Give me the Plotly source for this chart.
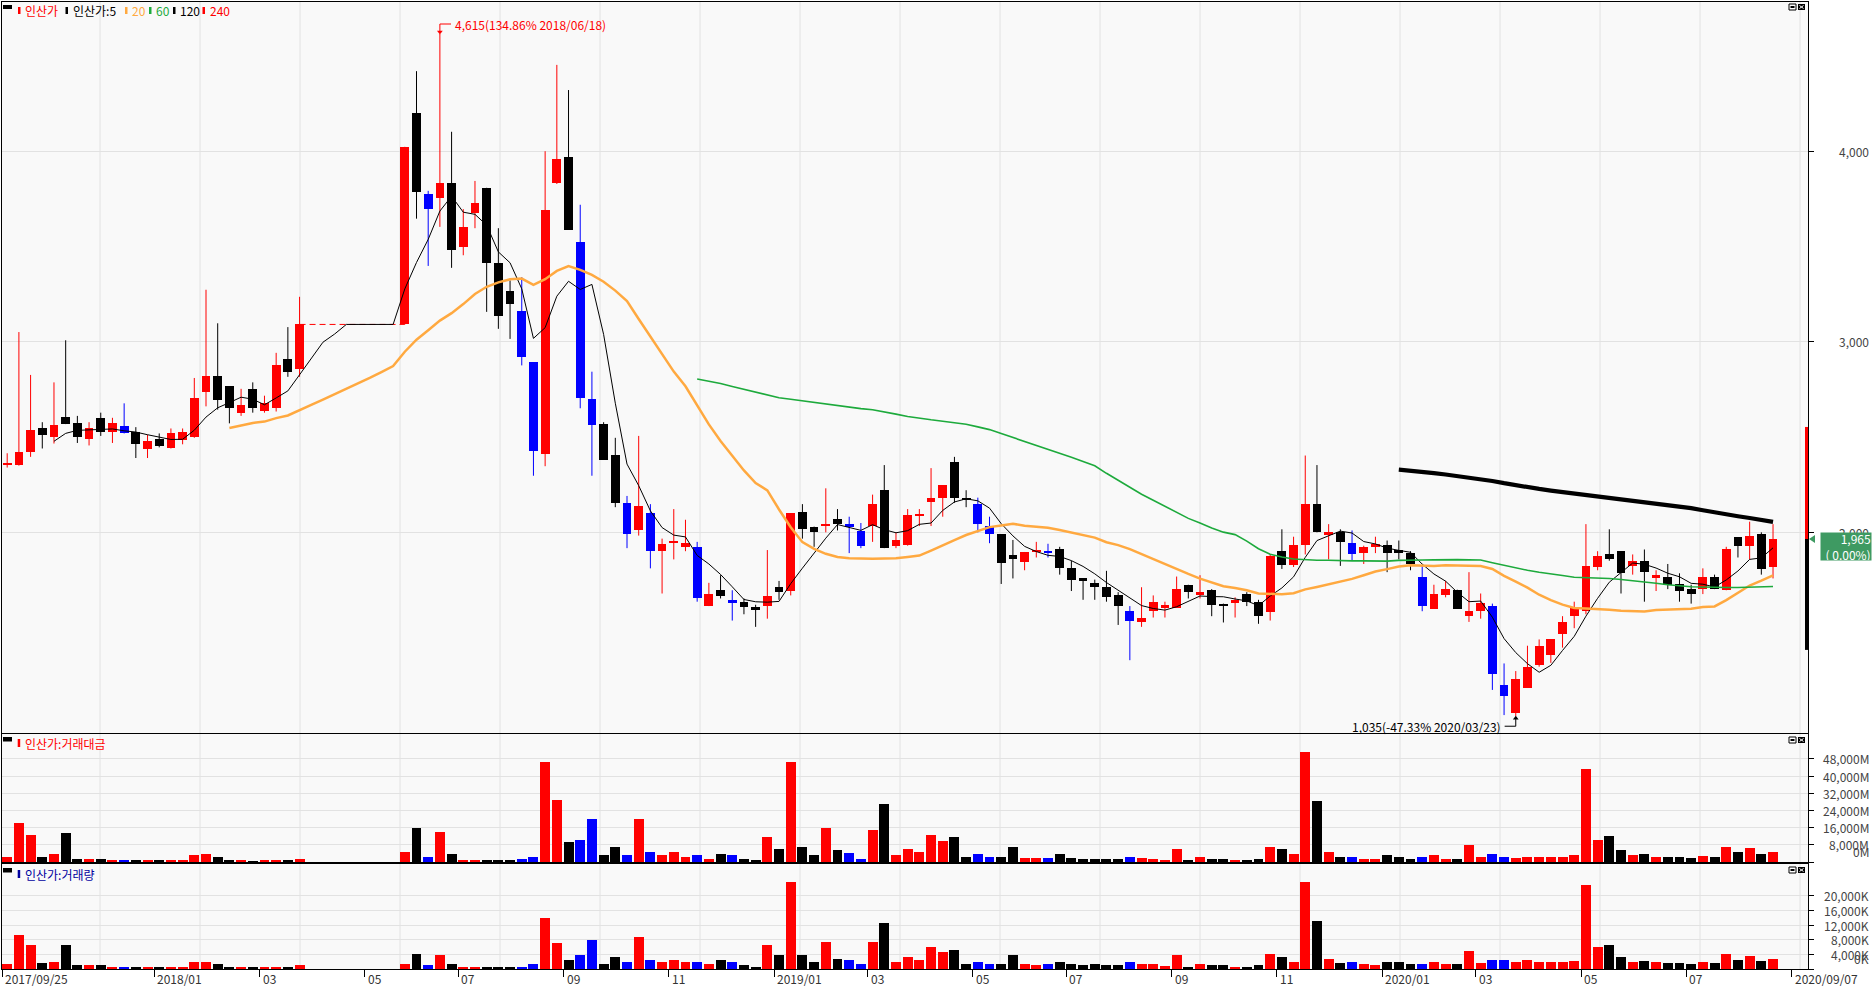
import plotly.graph_objects as go
import numpy as np

# ---------------- data (weekly candles, 2017/09/25 .. 2020/09/07) ----------------
# None = trading halt week (no candle)
H8 = [None] * 8
open_ = [2355, 2353, 2420, 2545, 2502, 2605, 2572, 2492, 2601, 2525, 2558, 2525, 2436, 2492, 2443, 2486,
         2502, 2734, 2823, 2767, 2628, 2753, 2638, 2651, 2909, 2859] + H8 + \
        [3091, 4198, 3778, 3752, 3835, 3497, 3676, 3808, 3411, 3266, 3163, 2892, 2413, 3835, 3970, 3524,
         2701, 2568, 2406, 2155,
         2010, 2099, 1901, 1943, 1924, 1924, 1613, 1699, 1643, 1636, 1610, 1613, 1712, 1692, 2109, 2030,
         2036, 2072, 2043, 2006, 2033, 2221, 1927, 1934, 2089, 2158, 2182, 2370, 2182, 2148, 2033, 1990,
         1881, 1844, 1897, 1904, 1914, 1811, 1758, 1735, 1712, 1669, 1586, 1530, 1586, 1603, 1603, 1725,
         1676, 1696, 1626, 1630, 1676,
         1636, 1580, 1901, 1828, 1934, 2148, 1990, 2000, 1943, 1891, 1927, 1934, 1907, 1891, 1768, 1600,
         1669, 1699, 1560, 1586, 1613, 1200, 1051, 1183, 1305, 1355, 1464, 1563, 1586, 1818, 1884, 1901,
         1824, 1851, 1762, 1768, 1729, 1702, 1702, 1768, 1696, 1973, 1927, 1990, 1818]
high = [2415, 3051, 2826, 2578, 2787, 3008, 2611, 2578, 2628, 2601, 2677, 2552, 2512, 2519, 2545, 2545,
        2810, 3273, 3097, 2767, 2753, 2787, 2717, 2942, 3077, 3236] + H8 + \
       [4023, 4420, 3792, 4615, 4102, 3696, 3844, 3808, 3596, 3322, 3339, 2892, 4000, 4453, 4321, 3719,
        2843, 2578, 2496, 2191,
        2506, 2148, 1967, 2122, 2066, 1950, 1735, 1775, 1696, 1653, 1620, 1907, 1745, 2099, 2148, 2030,
        2231, 2122, 2082, 2049, 2198, 2353, 2000, 2122, 2122, 2337, 2248, 2396, 2221, 2182, 2082, 1990,
        1960, 1897, 1950, 1940, 1924, 1851, 1758, 1752, 1798, 1686, 1613, 1712, 1669, 1636, 1768, 1725,
        1775, 1702, 1626, 1659, 1686,
        1646, 1884, 2016, 1977, 2403, 2353, 2043, 2016, 2010, 1930, 1977, 1957, 1957, 1901, 1824, 1725,
        1745, 1699, 1791, 1679, 1626, 1312, 1272, 1405, 1438, 1438, 1560, 1636, 2043, 1901, 2016, 1901,
        1884, 1910, 1801, 1834, 1785, 1725, 1811, 1778, 1924, 1973, 2056, 2000, 2043]
low = [2340, 2350, 2396, 2440, 2466, 2568, 2469, 2456, 2506, 2469, 2519, 2390, 2390, 2446, 2440, 2462,
       2496, 2661, 2644, 2572, 2611, 2628, 2628, 2634, 2816, 2816] + H8 + \
      [3091, 3646, 3398, 3603, 3388, 3454, 3596, 3157, 3068, 3015, 2876, 2297, 2347, 3828, 3587, 2651,
       2297, 2380, 2132, 1917,
       1983, 1811, 1679, 1858, 1901, 1636, 1613, 1653, 1537, 1570, 1504, 1547, 1646, 1669, 1967, 1924,
       2000, 2010, 1891, 1917, 1950, 1917, 1917, 1930, 2033, 2033, 2082, 2155, 2132, 2000, 1943, 1729,
       1758, 1801, 1868, 1868, 1778, 1692, 1646, 1646, 1636, 1514, 1329, 1504, 1553, 1553, 1603, 1653,
       1653, 1560, 1527, 1553, 1613,
       1520, 1537, 1808, 1818, 1884, 2000, 1858, 1824, 1851, 1834, 1891, 1791, 1858, 1801, 1586, 1600,
       1659, 1600, 1530, 1547, 1173, 1041, 1035, 1183, 1295, 1315, 1395, 1497, 1570, 1801, 1851, 1679,
       1778, 1636, 1692, 1702, 1636, 1626, 1676, 1702, 1696, 1868, 1858, 1778, 1758]
close = [2360, 2420, 2535, 2512, 2562, 2568, 2499, 2549, 2525, 2572, 2519, 2466, 2479, 2453, 2519, 2525,
         2704, 2823, 2697, 2654, 2668, 2651, 2677, 2876, 2839, 3091] + H8 + \
        [4023, 3785, 3696, 3835, 3481, 3603, 3729, 3411, 3134, 3196, 2919, 2429, 3692, 3960, 3587, 2704,
         2562, 2380, 2155, 1990,
         2139, 1901, 1940, 1957, 1943, 1653, 1676, 1666, 1633, 1610, 1593, 1666, 1686, 2099, 2016, 2000,
         2046, 2043, 2033, 1930, 2148, 1917, 1960, 2089, 2096, 2182, 2248, 2182, 2172, 2043, 1990, 1841,
         1861, 1897, 1907, 1891, 1811, 1752, 1745, 1712, 1663, 1613, 1537, 1553, 1636, 1620, 1702, 1686,
         1686, 1620, 1616, 1643, 1636,
         1560, 1874, 1828, 1934, 2148, 2000, 2000, 1950, 1884, 1924, 1937, 1891, 1891, 1834, 1613, 1679,
         1702, 1600, 1586, 1630, 1256, 1140, 1233, 1295, 1405, 1438, 1530, 1603, 1824, 1874, 1861, 1785,
         1851, 1791, 1775, 1725, 1692, 1679, 1768, 1702, 1910, 1927, 1983, 1808, 1965]
# candle / volume colour: r = red, b = blue, k = black, - = halt
candle_color = list("rrrkrkkrkrbkrkrrrrkkrkrrkr" + "--------" + "rkbrkrrkkkbbrrkbbkkb" +
                    "rbrrrbrkbk" "krkrkkrkbb" "rkrrrrrkkb" "bkkrrbkkkk" "kkbrrrrkrk" "krk" +
                    "krkrrkrkbr" "rkkkbrrkrr" "bbrrrrrrrr" "kkrkrkkkrk" "rkrkr")
# trading value (million KRW)
amount_m = [2200, 18300, 12500, 2500, 3700, 13300, 1300, 1600, 1300, 700, 700, 700, 600, 700, 600, 600,
            3100, 3700, 2200, 700, 600, 450, 600, 700, 700, 1300] + H8 + \
           [4500, 15700, 2200, 14200, 3700, 700, 700, 600, 600, 600, 1300, 2200, 46400, 29100, 9200, 10400,
            19800, 3100, 6900, 3100,
            19800, 4800, 3100, 4500, 2500, 3400, 1600, 3700, 3100, 1300, 700, 11600, 6000, 46700, 6900, 3100,
            16000, 5400, 4000, 1600, 15100, 26800, 3100, 6000, 4800, 12700, 9800, 11600, 2500, 3700, 2500, 2500,
            6900, 1900, 1900, 1900, 3700, 1900, 1300, 1600, 1300, 1300, 2500, 1900, 1600, 1000, 6000, 700,
            2200, 1600, 1600, 700, 800,
            1300, 6900, 6000, 3700, 51100, 28300, 4800, 2500, 2500, 1600, 1600, 3100, 2500, 1600, 2500, 3100,
            1600, 1600, 7800, 2500, 3700, 2500, 1900, 2500, 2500, 2500, 2500, 3100, 43200, 10400, 11900, 5700,
            3100, 3700, 2500, 2200, 2200, 1900, 2800, 2200, 6900, 4500, 6300, 3700, 4800]
# trading volume (thousand shares)
volume_k = [1480, 9200, 6600, 1650, 2000, 6600, 960, 1130, 960, 530, 530, 530, 530, 530, 530, 530,
            1820, 2000, 1300, 530, 530, 450, 530, 530, 530, 960] + H8 + \
           [1480, 4200, 960, 3880, 1480, 450, 450, 450, 450, 450, 620, 1300, 13840, 7140, 2500, 3880,
            8000, 1480, 3200, 1820,
            8860, 2500, 2000, 2500, 1820, 1820, 1300, 2330, 2000, 960, 620, 6600, 3700, 23800, 3700, 1820,
            7500, 2850, 2330, 1300, 7500, 12600, 1820, 3200, 2500, 6100, 4700, 5250, 1480, 1820, 1480, 1480,
            3700, 1300, 960, 1300, 2000, 1300, 960, 1300, 960, 960, 2000, 1480, 1300, 790, 3700, 620,
            1480, 960, 960, 620, 620,
            1130, 4200, 3370, 2000, 23800, 13150, 2850, 1650, 1820, 1480, 1130, 1820, 1820, 1480, 1480, 2000,
            1480, 1480, 4900, 1650, 2500, 2330, 2000, 2330, 2000, 2000, 2000, 2160, 22900, 5900, 6600, 3200,
            2000, 2160, 1820, 1650, 1650, 1480, 2000, 1650, 4050, 2500, 3540, 2160, 2850]

ma_periods = [5, 20, 60, 120]
hi_date = "2018/06/18"
lo_date = "2020/03/23"
tick_idx = [0, 13, 22, 31, 39, 48, 57, 66, 74, 83, 91, 100, 109, 118, 126, 135, 144]
tick_lab = ["2017/09/25", "2018/01", "03", "05", "07", "09", "11", "2019/01", "03", "05", "07", "09",
            "11", "2020/01", "03", "05", "07"]
end_label = "2020/09/07"
price_ticks = [2000, 3000, 4000]
amount_ticks = [0, 8000, 16000, 24000, 32000, 40000, 48000]
volume_ticks = [0, 4000, 8000, 12000, 16000, 20000]
side_bar_hi, side_bar_lo = 2553, 1383

# ---------------- geometry ----------------
W, H = 1875, 988
ML, MR, MT, MB = 2, 67, 2, 19
PW = W - ML - MR
PH = H - MT - MB


def px_x(p):
    return (p - ML) / PW


def px_y(p):
    return (H - MB - p) / PH


N = len(close)
X_RANGE = [-0.445, 153.99]
Y_MAIN = [947, 4783]
Y_AMT = [0, 59600]
Y_VOL = [0, 28700]
PPP = (Y_MAIN[1] - Y_MAIN[0]) / (733 - 2)  # price per pixel

RED, BLUE, BLACK = "#FF0000", "#0000FF", "#000000"
ORANGE, GREEN = "#FFA940", "#1DAA3C"
NAVY = "#0000A0"
COLS = {"r": RED, "b": BLUE, "k": BLACK}
FONT = "Noto Sans CJK KR, DejaVu Sans, sans-serif"

# moving averages (halt weeks carry the last close)
cf = []
last = None
for c in close:
    if c is not None:
        last = c
    cf.append(last)
cf = np.array(cf, dtype=float)


def moving_avg(n):
    out = [None] * N
    for i in range(n - 1, N):
        out[i] = float(cf[i - n + 1:i + 1].mean())
    return out


fig = go.Figure()

# ---- candles ----
for key, col in COLS.items():
    xs, bases, hs, wx, wy = [], [], [], [], []
    for i in range(N):
        if close[i] is None or candle_color[i] != key:
            continue
        lo_b, hi_b = min(open_[i], close[i]), max(open_[i], close[i])
        xs.append(i)
        bases.append(lo_b)
        hs.append(max(hi_b - lo_b, 8))
        wx += [i, i, None]
        wy += [low[i], high[i], None]
    fig.add_trace(go.Scatter(x=wx, y=wy, mode="lines", line=dict(color=col, width=1),
                             xaxis="x", yaxis="y", hoverinfo="skip", showlegend=False))
    fig.add_trace(go.Bar(x=xs, y=hs, base=bases, width=0.75, marker=dict(color=col, line=dict(width=0)),
                         xaxis="x", yaxis="y", opacity=1, showlegend=False, hoverinfo="skip"))

# halt line
h0 = max(i for i in range(N) if close[i] is not None and (i + 1 < N and close[i + 1] is None))
h1 = min(i for i in range(h0 + 1, N) if close[i] is not None)
fig.add_trace(go.Scatter(x=[h0, h1], y=[close[h0], open_[h1]], mode="lines",
                         line=dict(color=RED, width=1, dash="6px,4px"), xaxis="x", yaxis="y",
                         hoverinfo="skip", showlegend=False))

# moving averages
ma_style = {5: (BLACK, 1), 20: (ORANGE, 2.5), 60: (GREEN, 1.6), 120: (BLACK, 4.2)}
for n in ma_periods:
    col, wdt = ma_style[n]
    fig.add_trace(go.Scatter(x=list(range(N)), y=moving_avg(n), mode="lines",
                             line=dict(color=col, width=wdt), xaxis="x", yaxis="y",
                             hoverinfo="skip", showlegend=False, connectgaps=False))

# ---- volume panels ----
for key, col in COLS.items():
    xs = [i for i in range(N) if candle_color[i] == key and amount_m[i] is not None]
    fig.add_trace(go.Bar(x=xs, y=[amount_m[i] for i in xs], width=0.85,
                         marker=dict(color=col, line=dict(width=0)), xaxis="x2", yaxis="y2",
                         showlegend=False, hoverinfo="skip"))
    fig.add_trace(go.Bar(x=xs, y=[volume_k[i] for i in xs], width=0.85,
                         marker=dict(color=col, line=dict(width=0)), xaxis="x3", yaxis="y3",
                         showlegend=False, hoverinfo="skip"))

# ---- high / low marks ----
last_close = close[-1]
valid = [i for i in range(N) if close[i] is not None]
hi_i = max(valid, key=lambda i: high[i])
lo_i = min(valid, key=lambda i: low[i])
hi_v, lo_v = high[hi_i], low[lo_i]
hi_txt = f"{hi_v:,}({(hi_v / last_close - 1) * 100:.2f}% {hi_date})"
lo_txt = f"{lo_v:,}({(lo_v / last_close - 1) * 100:.2f}% {lo_date})"
hi_br = hi_v + 10 * PPP
lo_br = lo_v - 10 * PPP
fig.add_trace(go.Scatter(x=[hi_i, hi_i, hi_i + 0.95], y=[hi_v + PPP, hi_br, hi_br], mode="lines",
                         line=dict(color=RED, width=1), xaxis="x", yaxis="y", hoverinfo="skip",
                         showlegend=False))
fig.add_trace(go.Scatter(x=[hi_i], y=[hi_v + 2 * PPP], mode="markers",
                         marker=dict(symbol="triangle-down", size=5, color=RED), xaxis="x", yaxis="y",
                         hoverinfo="skip", showlegend=False))
fig.add_trace(go.Scatter(x=[lo_i - 0.95, lo_i, lo_i], y=[lo_br, lo_br, lo_v - PPP], mode="lines",
                         line=dict(color=BLACK, width=1), xaxis="x", yaxis="y", hoverinfo="skip",
                         showlegend=False))
fig.add_trace(go.Scatter(x=[lo_i], y=[lo_v - 2 * PPP], mode="markers",
                         marker=dict(symbol="triangle-up", size=5, color=BLACK), xaxis="x", yaxis="y",
                         hoverinfo="skip", showlegend=False))

annotations = []


def ann(text, x, y, color="#333333", xanchor="left", yanchor="middle", xref="paper", yref="paper",
        size=12, **kw):
    d = dict(text=text, x=x, y=y, xref=xref, yref=yref, xanchor=xanchor, yanchor=yanchor,
             showarrow=False, font=dict(family=FONT, size=size, color=color))
    d.update(kw)
    annotations.append(d)


ann(hi_txt, hi_i + 1.15, hi_br, color=RED, xref="x", yref="y")
ann(lo_txt, lo_i - 1.05, lo_br, color=BLACK, xanchor="right", xref="x", yref="y")

# ---- legends / titles ----
shapes = []


def rect(x0, y0, x1, y1, fill, line=None, lw=0):
    shapes.append(dict(type="rect", xref="paper", yref="paper", x0=px_x(x0), x1=px_x(x1),
                       y0=px_y(y0), y1=px_y(y1), fillcolor=fill,
                       line=dict(color=line or fill, width=lw), layer="above"))


def seg(x0, y0, x1, y1, color, w=1, layer="above"):
    shapes.append(dict(type="line", xref="paper", yref="paper", x0=px_x(x0), x1=px_x(x1),
                       y0=px_y(y0), y1=px_y(y1), line=dict(color=color, width=w), layer=layer))


# vertical grid (every 100 px)
for gx in range(100, 1801, 100):
    seg(gx, 2, gx, 969, "#E2E2E2", 1, layer="below")

legend_items = [(18, RED, "인산가", RED), (65.5, BLACK, "인산가:5", BLACK), (125, ORANGE, "20", ORANGE),
                (149, GREEN, "60", GREEN), (173, BLACK, "120", BLACK), (202.5, RED, "240", RED)]
rect(3, 5, 12, 9, BLACK)
for mx, mc, t, tc in legend_items:
    rect(mx, 7, mx + 2.5, 14, mc)
    ann(t, px_x(mx + 5), px_y(10.5), color=tc)

for (top, mc, t) in [(737, RED, "인산가:거래대금"), (868, NAVY, "인산가:거래량")]:
    rect(3, top, 12, top + 4.5, BLACK)
    rect(17.7, top + 2, 20.2, top + 10, mc)
    ann(t, px_x(23), px_y(top + 6.5), color=mc)

# panel icons (top right)
for top in [4, 737, 867]:
    rect(1789, top, 1796, top + 6, "#FFFFFF", BLACK, 1)
    rect(1790.5, top + 2, 1794.5, top + 4, BLACK)
    rect(1798, top, 1805, top + 6, BLACK)
    seg(1799.5, top + 1.5, 1803.5, top + 4.5, "#FFFFFF", 1)
    seg(1799.5, top + 4.5, 1803.5, top + 1.5, "#FFFFFF", 1)

# right axis labels
LBL_X = px_x(1871)
for v in price_ticks:
    ann(f"{v:,}", LBL_X, v, color="#444444", xanchor="right", yref="y")
for v in amount_ticks:
    ann(f"{v:,}M", LBL_X, v, color="#444444", xanchor="right", yref="y2",
        yanchor="bottom" if v == 0 else "middle")
for v in volume_ticks:
    ann(f"{v:,}K", LBL_X, v, color="#444444", xanchor="right", yref="y3",
        yanchor="bottom" if v == 0 else "middle")

# current price tag
TAG = "#3E9A62"
ann(f"{last_close:,}<br>( 0.00%)", px_x(1872), last_close, color="#FFFFFF", xanchor="right",
    yref="y", width=50, height=27, bgcolor=TAG, borderpad=0, align="right", yshift=-7, size=12)
shapes.append(dict(type="path", xref="paper", yref="y",
                   path=f"M {px_x(1809)},{last_close} L {px_x(1815)},{last_close + 4 * PPP} "
                        f"L {px_x(1815)},{last_close - 4 * PPP} Z",
                   fillcolor=TAG, line=dict(width=0), layer="above"))
shapes.append(dict(type="rect", xref="paper", yref="y", x0=px_x(1805), x1=px_x(1808),
                   y0=last_close, y1=side_bar_hi, fillcolor=RED, line=dict(width=0), layer="above"))
shapes.append(dict(type="rect", xref="paper", yref="y", x0=px_x(1805), x1=px_x(1808),
                   y0=side_bar_lo, y1=last_close, fillcolor=BLACK, line=dict(width=0), layer="above"))

# x tick labels
tick_pos = [t - 0.42 for t in tick_idx] + [N - 1 + 1.6]
for tp, tl in zip(tick_pos, tick_lab + [end_label]):
    ann(tl, tp, px_y(978), color="#333333", xref="x3", xshift=1)

GRID = "#E2E2E2"
axis_common = dict(showline=True, linecolor=BLACK, linewidth=1, mirror=True, zeroline=False)
fig.update_layout(
    width=W, height=H, autosize=False,
    margin=dict(l=ML, r=MR, t=MT, b=MB, pad=0),
    paper_bgcolor="#FFFFFF", plot_bgcolor="#F9F9F9",
    barmode="overlay", bargap=0, showlegend=False,
    font=dict(family=FONT, size=12, color="#333333"),
    xaxis=dict(domain=[0, 1], range=X_RANGE, anchor="y", showgrid=False, showticklabels=False,
               ticks="", **axis_common),
    xaxis2=dict(domain=[0, 1], range=X_RANGE, anchor="y2", matches="x", showgrid=False,
                showticklabels=False, ticks="", **axis_common),
    xaxis3=dict(domain=[0, 1], range=X_RANGE, anchor="y3", matches="x", showgrid=False,
                showticklabels=False, ticks="outside", ticklen=7, tickcolor=BLACK, tickwidth=1,
                tickmode="array", tickvals=tick_pos, **axis_common),
    yaxis=dict(domain=[px_y(733), px_y(2)], range=Y_MAIN, anchor="x", side="right",
               tickmode="array", tickvals=price_ticks, showticklabels=False, ticks="outside",
               ticklen=5, tickcolor=BLACK, showgrid=True, gridcolor=GRID, **axis_common),
    yaxis2=dict(domain=[px_y(862), px_y(734)], range=Y_AMT, anchor="x2", side="right",
                tickmode="array", tickvals=amount_ticks, showticklabels=False, ticks="outside",
                ticklen=5, tickcolor=BLACK, showgrid=True, gridcolor=GRID, **axis_common),
    yaxis3=dict(domain=[0, px_y(864)], range=Y_VOL, anchor="x3", side="right",
                tickmode="array", tickvals=volume_ticks, showticklabels=False, ticks="outside",
                ticklen=5, tickcolor=BLACK, showgrid=True, gridcolor=GRID, **axis_common),
    annotations=annotations,
    shapes=shapes,
)

fig.write_html(
    "out.html",
    config={"displayModeBar": False},
    post_script="document.body.style.margin='0';document.body.style.padding='0';"
                "document.body.style.overflow='hidden';"
                "document.documentElement.style.overflow='hidden';",
)
